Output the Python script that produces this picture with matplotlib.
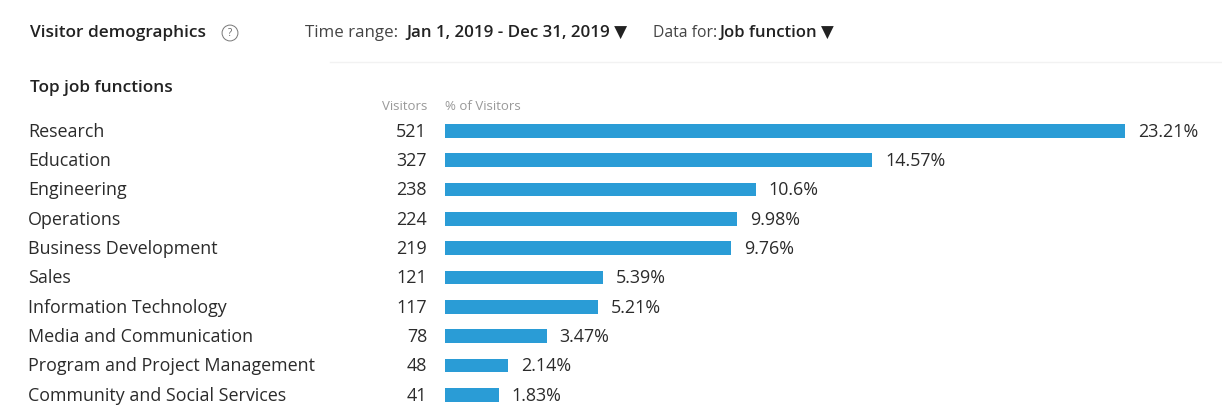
import matplotlib
matplotlib.use("Agg")
import matplotlib.pyplot as plt
from matplotlib.transforms import blended_transform_factory

categories = ["Research", "Education", "Engineering", "Operations", "Business Development",
              "Sales", "Information Technology", "Media and Communication",
              "Program and Project Management", "Community and Social Services"]
visitors = [521, 327, 238, 224, 219, 121, 117, 78, 48, 41]
percents = [23.21, 14.57, 10.6, 9.98, 9.76, 5.39, 5.21, 3.47, 2.14, 1.83]
pct_labels = ["23.21%", "14.57%", "10.6%", "9.98%", "9.76%", "5.39%", "5.21%", "3.47%", "2.14%", "1.83%"]

W, H = 1222, 413
plt.rcParams['font.family'] = ['Open Sans', 'DejaVu Sans']
fig = plt.figure(figsize=(W / 100, H / 100), dpi=100)
fig.patch.set_facecolor("white")

# axes geometry in pixels
x0 = 445
px_per_pct = 29.3
row_h = 29.3
y_top_center = 131
ax_left = x0 / W
ax_w = (W - x0) / W
top_px = y_top_center - row_h / 2
bot_px = top_px + row_h * len(categories)
ax = fig.add_axes([ax_left, 1 - bot_px / H, ax_w, (bot_px - top_px) / H])
ax.set_xlim(0, (W - x0) / px_per_pct)
ax.set_ylim(len(categories) - 0.5, -0.5)
ax.axis("off")

ypos = list(range(len(categories)))
ax.barh(ypos, percents, height=0.47, color="#2a9cd6", edgecolor="none")

tf = blended_transform_factory(fig.transFigure, ax.transData)
text_color = "#2b2b2b"
fs = 12.9
for i, (c, v) in enumerate(zip(categories, visitors)):
    ax.text(28 / W, i + 0.03, c, transform=tf, fontsize=fs, color=text_color, va="center", ha="left")
    ax.text(427 / W, i + 0.03, str(v), transform=tf, fontsize=fs, color=text_color, va="center", ha="right")
for i, (p, lab) in enumerate(zip(percents, pct_labels)):
    ax.text(p + 13 / px_per_pct, i + 0.03, lab, fontsize=fs, color=text_color, va="center", ha="left")

# header
def fy(py):
    return 1 - py / H

hs = 12.4
fig.text(30 / W, fy(33), "Visitor demographics", fontsize=hs, fontweight="semibold", color="#222222", va="center")
fig.text(230 / W, fy(33), "?", fontsize=7, color="#666666", va="center", ha="center",
         bbox=dict(boxstyle="circle,pad=0.25", fc="none", ec="#777777", lw=0.7))
fig.text(305 / W, fy(33), "Time range:", fontsize=12.2, color="#444444", va="center")
fig.text(406 / W, fy(33), "Jan 1, 2019 - Dec 31, 2019 \u25BC", fontsize=12.2, fontweight="semibold", color="#222222", va="center")
fig.text(653 / W, fy(33), "Data for:", fontsize=11.3, color="#444444", va="center")
fig.text(719 / W, fy(33), "Job function \u25BC", fontsize=12.0, fontweight="semibold", color="#222222", va="center")
fig.text(30 / W, fy(88), "Top job functions", fontsize=hs, fontweight="semibold", color="#222222", va="center")
fig.text(427 / W, fy(106), "Visitors", fontsize=9.5, color="#999999", va="center", ha="right")
fig.text(445 / W, fy(106), "% of Visitors", fontsize=9.5, color="#999999", va="center", ha="left")

fig.add_artist(plt.Line2D([330 / W, 1.0], [fy(62), fy(62)], color="#f2f2f2", lw=1))

fig.savefig("out.png", dpi=100, facecolor="white")
